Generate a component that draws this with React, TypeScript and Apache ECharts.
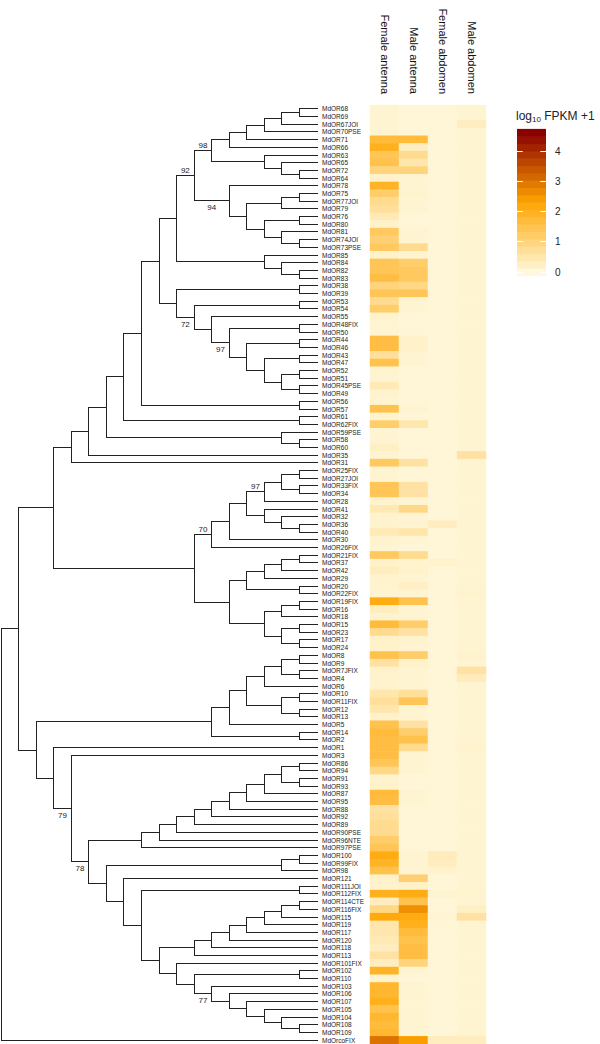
import React, { useEffect, useRef } from "react";
import * as echarts from "echarts";

// ---------- data ----------
const genes = [
  "MdOR68","MdOR69","MdOR67JOI","MdOR70PSE","MdOR71","MdOR66","MdOR63","MdOR65","MdOR72","MdOR64",
  "MdOR78","MdOR75","MdOR77JOI","MdOR79","MdOR76","MdOR80","MdOR81","MdOR74JOI","MdOR73PSE","MdOR85",
  "MdOR84","MdOR82","MdOR83","MdOR38","MdOR39","MdOR53","MdOR54","MdOR55","MdOR48FIX","MdOR50",
  "MdOR44","MdOR46","MdOR43","MdOR47","MdOR52","MdOR51","MdOR45PSE","MdOR49","MdOR56","MdOR57",
  "MdOR61","MdOR62FIX","MdOR59PSE","MdOR58","MdOR60","MdOR35","MdOR31","MdOR25FIX","MdOR27JOI","MdOR33FIX",
  "MdOR34","MdOR28","MdOR41","MdOR32","MdOR36","MdOR40","MdOR30","MdOR26FIX","MdOR21FIX","MdOR37",
  "MdOR42","MdOR29","MdOR20","MdOR22FIX","MdOR19FIX","MdOR16","MdOR18","MdOR15","MdOR23","MdOR17",
  "MdOR24","MdOR8","MdOR9","MdOR7JFIX","MdOR4","MdOR6","MdOR10","MdOR11FIX","MdOR12","MdOR13",
  "MdOR5","MdOR14","MdOR2","MdOR1","MdOR3","MdOR86","MdOR94","MdOR91","MdOR93","MdOR87",
  "MdOR95","MdOR88","MdOR92","MdOR89","MdOR90PSE","MdOR96NTE","MdOR97PSE","MdOR100","MdOR99FIX","MdOR98",
  "MdOR121","MdOR111JOI","MdOR112FIX","MdOR114CTE","MdOR116FIX","MdOR115","MdOR119","MdOR117","MdOR120","MdOR118",
  "MdOR113","MdOR101FIX","MdOR102","MdOR110","MdOR103","MdOR106","MdOR107","MdOR105","MdOR104","MdOR108",
  "MdOR109","MdOrcoFIX",
];

const tissues = ["Female antenna", "Male antenna", "Female abdomen", "Male abdomen"];

const femaleAntenna = [
  0.1,0.1,0.1,0.1,1.7,2.0,1.4,1.5,1.0,0.2,
  1.9,1.2,0.8,0.7,0.4,0.2,1.3,1.1,1.3,0.2,
  1.4,1.4,1.6,1.0,1.4,0.8,1.2,0.15,0.1,0.1,
  1.6,1.6,0.7,1.5,0.15,0.1,0.4,0.15,0.1,1.5,
  0.15,1.2,0.1,0.1,0.25,0.1,1.3,0.1,0.1,1.4,
  1.4,0.15,0.4,0.15,0.15,0.4,0.15,0.1,1.3,0.2,
  0.3,0.15,0.15,0.1,2.1,0.3,0.15,1.7,0.8,0.2,
  0.2,1.5,0.6,0.2,0.15,0.15,0.5,0.7,0.5,0.2,
  1.5,1.7,1.6,1.6,1.6,1.4,0.9,0.15,0.2,1.7,
  1.6,0.6,0.7,0.8,0.8,1.2,1.4,2.1,1.9,1.5,
  0.2,0.15,2.0,0.3,0.9,2.2,0.5,0.5,0.4,0.3,
  0.6,0.3,1.9,0.15,1.8,1.8,2.0,1.5,1.8,1.7,
  1.8,3.0,
];

const maleAntenna = [
  0.05,0.05,0.05,0.05,1.7,0.3,0.8,0.5,1.0,0.1,
  0.1,0.15,0.1,0.1,0.05,0.05,0.1,0.1,0.8,0.1,
  1.2,1.3,1.3,0.9,1.4,0.1,0.1,0.05,0.05,0.05,
  0.2,0.2,0.1,0.1,0.05,0.05,0.05,0.05,0.05,0.1,
  0.05,0.5,0.05,0.05,0.05,0.05,0.6,0.05,0.05,0.6,
  0.6,0.1,0.9,0.1,0.1,0.5,0.1,0.05,0.8,0.15,
  0.2,0.1,0.25,0.1,1.5,0.1,0.1,1.2,0.6,0.15,
  0.1,1.2,0.2,0.1,0.1,0.1,0.7,1.4,0.1,0.1,
  0.6,1.2,1.5,0.8,0.1,0.1,0.1,0.05,0.05,0.1,
  0.1,0.05,0.05,0.05,0.05,0.05,0.05,0.1,0.1,0.1,
  1.1,0.2,2.1,1.5,2.6,2.1,2.0,1.7,1.5,1.6,
  1.6,1.0,0.1,0.05,0.1,0.1,0.1,0.1,0.1,0.1,
  0.1,2.4,
];

const femaleAbdomen = [
  0.05,0.05,0.05,0.05,0.05,0.05,0.05,0.05,0.05,0.05,
  0.05,0.05,0.05,0.05,0.05,0.05,0.05,0.05,0.05,0.05,
  0.05,0.05,0.05,0.05,0.05,0.05,0.05,0.05,0.05,0.05,
  0.05,0.05,0.05,0.05,0.05,0.05,0.05,0.05,0.05,0.05,
  0.05,0.05,0.05,0.05,0.05,0.05,0.05,0.05,0.05,0.05,
  0.05,0.05,0.05,0.05,0.3,0.05,0.05,0.05,0.05,0.15,
  0.05,0.05,0.05,0.05,0.05,0.05,0.05,0.05,0.05,0.05,
  0.05,0.05,0.05,0.05,0.05,0.05,0.05,0.05,0.05,0.05,
  0.05,0.05,0.05,0.05,0.05,0.05,0.05,0.05,0.05,0.05,
  0.05,0.05,0.05,0.05,0.05,0.05,0.05,0.35,0.3,0.15,
  0.05,0.05,0.1,0.05,0.05,0.08,0.05,0.05,0.05,0.05,
  0.05,0.05,0.05,0.05,0.05,0.05,0.05,0.05,0.05,0.05,
  0.05,0.3,
];

const maleAbdomen = [
  0.1,0.1,0.3,0.1,0.1,0.1,0.1,0.1,0.1,0.1,
  0.1,0.1,0.1,0.1,0.1,0.1,0.1,0.1,0.1,0.1,
  0.1,0.1,0.1,0.1,0.1,0.1,0.1,0.1,0.1,0.1,
  0.1,0.1,0.1,0.1,0.1,0.1,0.1,0.1,0.1,0.1,
  0.1,0.1,0.1,0.1,0.1,0.6,0.1,0.1,0.1,0.1,
  0.1,0.1,0.1,0.1,0.1,0.1,0.1,0.1,0.1,0.1,
  0.1,0.1,0.1,0.15,0.1,0.1,0.1,0.1,0.1,0.1,
  0.1,0.15,0.1,0.6,0.35,0.1,0.1,0.1,0.1,0.1,
  0.1,0.1,0.1,0.15,0.1,0.1,0.1,0.1,0.1,0.1,
  0.1,0.1,0.1,0.1,0.1,0.1,0.1,0.1,0.1,0.1,
  0.1,0.1,0.15,0.1,0.25,0.6,0.1,0.1,0.1,0.1,
  0.1,0.1,0.1,0.1,0.1,0.1,0.1,0.1,0.1,0.1,
  0.1,0.3,
];

// tree topology (Newick pieces, bootstrap support after closing parenthesis)
const cladeA98 = "((((((MdOR68,MdOR69),MdOR67JOI),MdOR70PSE),MdOR71),MdOR66),(MdOR63,(MdOR65,(MdOR72,MdOR64))))98";
const cladeA94 = "(MdOR78,(((MdOR75,MdOR77JOI),MdOR79),((MdOR76,MdOR80),(MdOR81,(MdOR74JOI,MdOR73PSE)))))94";
const cladeA8 = "((" + cladeA98 + "," + cladeA94 + ")92,(MdOR85,(MdOR84,(MdOR82,MdOR83))))";
const cladeB97 = "((MdOR48FIX,MdOR50),((MdOR44,MdOR46),((MdOR43,MdOR47),((MdOR52,MdOR51),(MdOR45PSE,MdOR49)))))97";
const cladeB8 = "((MdOR38,MdOR39),((MdOR53,MdOR54),(MdOR55," + cladeB97 + "))72)";
const cladeN14 = "((((((" + cladeA8 + "," + cladeB8 + "),(MdOR56,MdOR57)),(MdOR61,MdOR62FIX)),(MdOR59PSE,(MdOR58,MdOR60))),MdOR35),MdOR31)";
const cladeC97 = "(((MdOR25FIX,MdOR27JOI),(MdOR33FIX,MdOR34)),MdOR28)97";
const cladeC70 = "(((" + cladeC97 + ",(MdOR41,(MdOR32,(MdOR36,MdOR40)))),MdOR30),MdOR26FIX)70";
const cladeCL = "(((((MdOR21FIX,MdOR37),MdOR42),MdOR29),(MdOR20,MdOR22FIX)),(((MdOR19FIX,MdOR16),MdOR18),((MdOR15,MdOR23),(MdOR17,MdOR24))))";
const cladeN15 = "(" + cladeN14 + ",(" + cladeC70 + "," + cladeCL + "))";
const cladeD6 = "((((((MdOR8,MdOR9),(MdOR7JFIX,MdOR4)),MdOR6),((MdOR10,MdOR11FIX),(MdOR12,MdOR13))),MdOR5),(MdOR14,MdOR2))";
const cladeE10 = "((((((((((MdOR86,MdOR94),(MdOR91,MdOR93)),MdOR87),MdOR95),MdOR88),MdOR92),MdOR89),MdOR90PSE),MdOR96NTE),MdOR97PSE)";
const cladeF113 = "(((((((MdOR114CTE,MdOR116FIX),MdOR115),MdOR119),MdOR117),MdOR120),MdOR118),MdOR113)";
const cladeF101 = "(MdOR101FIX,((MdOR102,MdOR110),(MdOR103,(MdOR106,(MdOR107,(MdOR105,(MdOR104,(MdOR108,MdOR109))))))77))";
const cladeI = "(((MdOR100,MdOR99FIX),MdOR98),(MdOR121,((MdOR111JOI,MdOR112FIX),(" + cladeF113 + "," + cladeF101 + "))))";
const cladeM16 = "(" + cladeD6 + ",(MdOR1,(MdOR3,(" + cladeE10 + "," + cladeI + ")78)79))";
const treeNewick = "((" + cladeN15 + "," + cladeM16 + "),MdOrcoFIX);";

const colorMax = 4.6;
const palette = ["#FFF8DC", "#FFA500", "#8B0000"];
const colorbarTicks = [0, 1, 2, 3, 4];

// ---------- helpers ----------
type TNode = { name?: string; support?: string; children: TNode[]; level: number; y: number };

function parseNewick(s: string): TNode {
  let i = 0;
  const parse = (): TNode => {
    const node: TNode = { children: [], level: 0, y: 0 };
    if (s[i] === "(") {
      i++;
      node.children.push(parse());
      while (s[i] === ",") {
        i++;
        node.children.push(parse());
      }
      i++;
    }
    let label = "";
    while (i < s.length && !",();".includes(s[i])) label += s[i++];
    if (node.children.length) {
      if (label) node.support = label;
    } else node.name = label;
    return node;
  };
  return parse();
}

function layoutTree(n: TNode) {
  if (!n.children.length) {
    n.level = 0;
    n.y = genes.indexOf(n.name as string);
    return;
  }
  n.children.forEach(layoutTree);
  n.level = 1 + Math.max(...n.children.map((c) => c.level));
  n.y = (n.children[0].y + n.children[n.children.length - 1].y) / 2;
}

function hexToRgb(h: string) {
  return [parseInt(h.slice(1, 3), 16), parseInt(h.slice(3, 5), 16), parseInt(h.slice(5, 7), 16)];
}
function colorAt(v: number) {
  const t = Math.max(0, Math.min(1, v / colorMax)) * (palette.length - 1);
  const k = Math.min(palette.length - 2, Math.floor(t));
  const f = t - k;
  const a = hexToRgb(palette[k]);
  const b = hexToRgb(palette[k + 1]);
  const c = a.map((x, j) => Math.round(x + (b[j] - x) * f));
  return `rgb(${c[0]},${c[1]},${c[2]})`;
}

const FONT = "'Liberation Sans', Arial, Helvetica, sans-serif";

export default function App() {
  const ref = useRef<HTMLDivElement>(null);

  useEffect(() => {
    if (!ref.current) return;
    const chart = echarts.init(ref.current, undefined, { renderer: "svg" });

    const root = parseNewick(treeNewick);
    layoutTree(root);

    const segs: number[][] = [];
    const supports: { x: number; y: number; text: string; below: boolean }[] = [];
    const walk = (n: TNode) => {
      if (!n.children.length) return;
      const first = n.children[0];
      const last = n.children[n.children.length - 1];
      segs.push([n.level, first.y, n.level, last.y]);
      n.children.forEach((c, idx) => {
        segs.push([n.level, c.y, c.level, c.y]);
        if (c.support) {
          supports.push({
            x: (n.level + c.level) / 2,
            y: c.y,
            text: c.support,
            below: idx === n.children.length - 1,
          });
        }
        walk(c);
      });
    };
    walk(root);

    const columns = [femaleAntenna, maleAntenna, femaleAbdomen, maleAbdomen];
    const heatData: number[][] = [];
    columns.forEach((col, c) => col.forEach((v, r) => heatData.push([c, r, v])));

    const px = (v: number) => Math.round(v - 0.5) + 0.5;

    // colour bar (legend) geometry
    const barX = 517;
    const barW = 29;
    const zeroY = 272;
    const unit = 30.25;
    const nBins = 20;
    const binH = (colorMax / (nBins - 1)) * unit;
    const graphics: any[] = [];
    for (let i = 0; i < nBins; i++) {
      const v = (i * colorMax) / (nBins - 1);
      const cy = zeroY - v * unit;
      graphics.push({
        type: "rect",
        silent: true,
        shape: { x: barX, y: cy - binH / 2 - 0.3, width: barW, height: binH + 0.6 },
        style: { fill: colorAt(v) },
      });
    }
    colorbarTicks.forEach((t) => {
      const y = px(zeroY - t * unit);
      graphics.push({
        type: "line",
        silent: true,
        shape: { x1: barX, y1: y, x2: barX + 5.7, y2: y },
        style: { stroke: "#ffffff", lineWidth: 1 },
      });
      graphics.push({
        type: "line",
        silent: true,
        shape: { x1: barX + barW - 5.7, y1: y, x2: barX + barW, y2: y },
        style: { stroke: "#ffffff", lineWidth: 1 },
      });
      graphics.push({
        type: "text",
        silent: true,
        x: 555,
        y: zeroY - t * unit,
        style: {
          text: String(t),
          fill: "#222",
          font: `10px ${FONT}`,
          align: "left",
          verticalAlign: "middle",
        },
      });
    });
    graphics.push({
      type: "text",
      silent: true,
      x: 516,
      y: 116,
      style: {
        text: "{a|log}{s|10}{a| FPKM +1}",
        verticalAlign: "middle",
        align: "left",
        rich: {
          a: { fontSize: 12, lineHeight: 14, fontFamily: FONT, fill: "#222" },
          s: { fontSize: 8, lineHeight: 6, verticalAlign: "bottom", fontFamily: FONT, fill: "#222" },
        },
      },
    });

    const option: any = {
      animation: false,
      backgroundColor: "#ffffff",
      textStyle: { fontFamily: FONT },
      grid: [
        { left: 1, top: 105, width: 316, height: 939 },
        {
          left: 370,
          top: 105,
          width: 116,
          height: 939,
          show: true,
          backgroundColor: "#FFF8DC",
          borderWidth: 0,
        },
      ],
      xAxis: [
        { type: "value", gridIndex: 0, min: 0, max: root.level, inverse: true, show: false },
        {
          type: "category",
          gridIndex: 1,
          data: tissues,
          position: "top",
          axisLine: { show: false },
          axisTick: { show: false },
          axisLabel: {
            interval: 0,
            rotate: 90,
            margin: 11,
            fontSize: 11,
            color: "#111",
            padding: [8, 0, 0, 0],
          },
        },
      ],
      yAxis: [
        { type: "value", gridIndex: 0, min: -0.5, max: genes.length - 0.5, inverse: true, show: false },
        {
          type: "category",
          gridIndex: 1,
          data: genes,
          inverse: true,
          axisLine: { show: false },
          axisTick: { show: false },
          axisLabel: {
            interval: 0,
            align: "left",
            margin: 48,
            fontSize: 6.5,
            color: "#222",
          },
        },
      ],
      visualMap: {
        show: false,
        type: "continuous",
        min: 0,
        max: colorMax,
        dimension: 2,
        seriesIndex: 2,
        inRange: { color: palette },
      },
      graphic: graphics,
      series: [
        {
          type: "custom",
          xAxisIndex: 0,
          yAxisIndex: 0,
          silent: true,
          clip: false,
          encode: { x: [0, 2], y: [1, 3] },
          data: segs,
          renderItem: (params: any, api: any) => {
            const s = segs[params.dataIndex];
            const a = api.coord([s[0], s[1]]);
            const b = api.coord([s[2], s[3]]);
            return {
              type: "line",
              shape: { x1: px(a[0]), y1: px(a[1]), x2: px(b[0]), y2: px(b[1]) },
              style: { stroke: "#222", lineWidth: 1, lineCap: "square" },
            };
          },
        },
        {
          type: "custom",
          xAxisIndex: 0,
          yAxisIndex: 0,
          silent: true,
          clip: false,
          encode: { x: 0, y: 1 },
          data: supports.map((s) => [s.x, s.y]),
          renderItem: (params: any, api: any) => {
            const s = supports[params.dataIndex];
            const p = api.coord([s.x, s.y]);
            return {
              type: "text",
              x: p[0],
              y: p[1] + (s.below ? 7 : -5.5),
              style: {
                text: s.text,
                fill: "#222",
                font: `8px ${FONT}`,
                align: "center",
                verticalAlign: "middle",
              },
            };
          },
        },
        {
          type: "heatmap",
          xAxisIndex: 1,
          yAxisIndex: 1,
          silent: true,
          data: heatData,
          itemStyle: { borderWidth: 0 },
          emphasis: { disabled: true },
        },
      ],
    };

    chart.setOption(option);
    return () => chart.dispose();
  }, []);

  return (
    <div
      ref={ref}
      style={{ position: "absolute", left: 0, top: 0, width: 600, height: 1044, background: "#fff" }}
    />
  );
}
